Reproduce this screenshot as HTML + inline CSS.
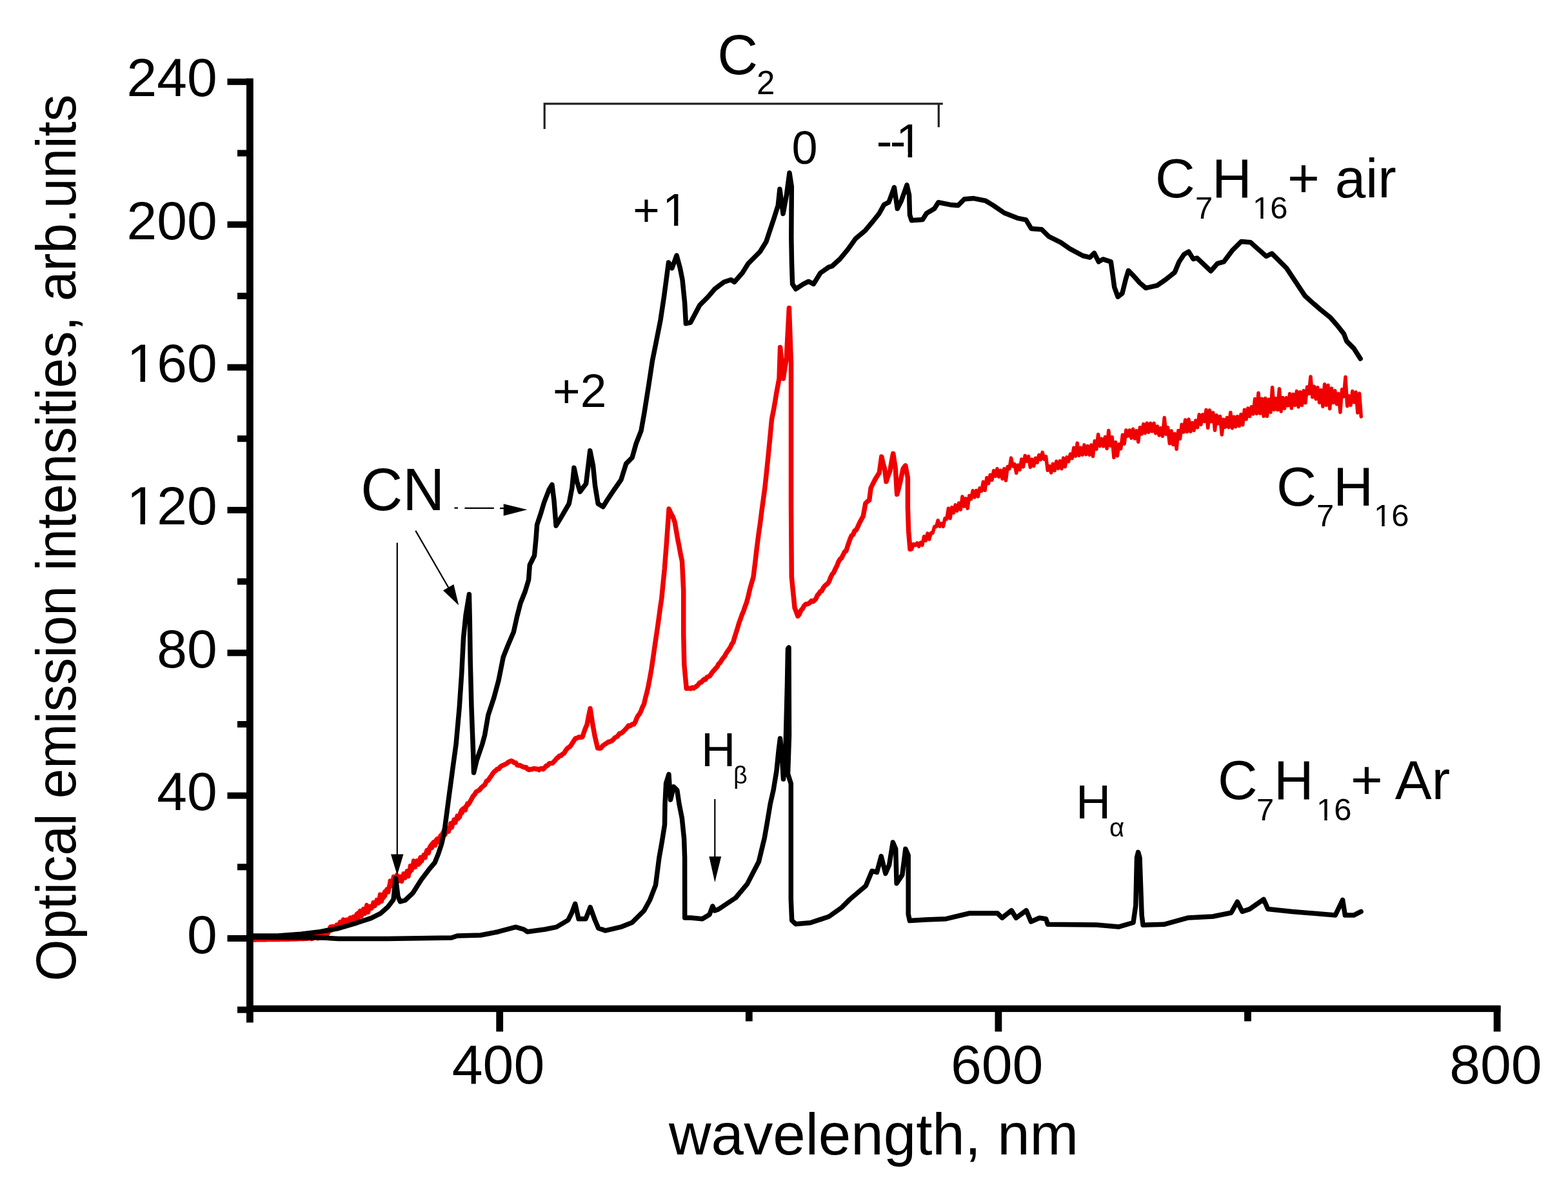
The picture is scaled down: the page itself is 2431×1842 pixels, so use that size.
<!DOCTYPE html>
<html><head><meta charset="utf-8"><title>Optical emission spectra</title>
<style>html,body{margin:0;padding:0;background:#fff;width:2431px;height:1842px;overflow:hidden}svg{display:block}
text{font-family:"Liberation Sans",Arial,sans-serif;fill:#000}</style></head><body>
<svg xmlns="http://www.w3.org/2000/svg" width="2431" height="1842" viewBox="0 0 2431 1842">
<rect width="2431" height="1842" fill="#fff"/>
<defs><clipPath id="k1"><rect x="136.4" y="687.4" width="297.4" height="118.22"/><rect x="136.45" y="805.62" width="64.51" height="49.8"/><rect x="217.57" y="805.62" width="7.42" height="49.8"/><rect x="240.95" y="805.62" width="192.93" height="49.8"/></clipPath><clipPath id="k2"><rect x="136.4" y="466.1" width="297.4" height="118.22"/><rect x="136.45" y="584.32" width="64.51" height="49.8"/><rect x="217.57" y="584.32" width="7.42" height="49.8"/><rect x="240.95" y="584.32" width="192.93" height="49.8"/></clipPath><clipPath id="k3"><rect x="1298.8" y="132.5" width="224.2" height="103.97"/><rect x="1298.80" y="236.47" width="94.17" height="44.0"/><rect x="1407.61" y="236.47" width="6.54" height="44.0"/><rect x="1428.20" y="236.47" width="94.80" height="44.0"/></clipPath><clipPath id="k4"><rect x="921.3" y="243.8" width="236.9" height="99.70"/><rect x="921.30" y="343.50" width="109.71" height="42.3"/><rect x="1045.05" y="343.50" width="6.27" height="42.3"/><rect x="1064.81" y="343.50" width="93.39" height="42.3"/></clipPath><clipPath id="k5"><rect x="1882.0" y="265.5" width="196.3" height="68.34"/><rect x="1882.00" y="333.84" width="62.63" height="29.7"/><rect x="1954.32" y="333.84" width="4.33" height="29.7"/><rect x="1967.96" y="333.84" width="110.29" height="29.7"/></clipPath><clipPath id="k6"><rect x="2070.0" y="742.8" width="196.3" height="68.34"/><rect x="2070.00" y="811.14" width="62.63" height="29.7"/><rect x="2142.32" y="811.14" width="4.33" height="29.7"/><rect x="2155.96" y="811.14" width="110.29" height="29.7"/></clipPath><clipPath id="k7"><rect x="1981.0" y="1198.7" width="196.3" height="68.34"/><rect x="1981.00" y="1267.04" width="62.63" height="29.7"/><rect x="2053.32" y="1267.04" width="4.33" height="29.7"/><rect x="2066.96" y="1267.04" width="110.29" height="29.7"/></clipPath></defs>
<polyline points="387.2,1457.0 389.4,1457.0 391.7,1456.9 393.9,1456.9 396.2,1456.9 398.4,1456.8 400.7,1456.8 402.9,1456.8 405.2,1456.8 407.4,1456.7 409.6,1456.7 411.9,1456.7 414.1,1456.6 416.4,1456.6 418.6,1456.6 420.9,1456.5 423.1,1456.5 425.4,1456.5 427.6,1456.4 429.9,1456.4 432.1,1456.4 434.3,1456.3 436.6,1456.3 438.8,1456.3 441.1,1456.3 443.3,1456.2 445.6,1456.2 447.8,1456.2 450.1,1456.1 452.3,1456.1 454.6,1456.0 456.9,1455.9 459.2,1455.8 461.5,1455.7 463.8,1455.6 466.1,1455.5 468.5,1455.5 470.8,1455.4 473.1,1455.3 475.4,1455.2 477.7,1455.1 480.0,1453.7 482.3,1452.0 484.6,1455.1 486.9,1450.4 489.2,1453.3 491.5,1451.5 493.8,1448.8 496.1,1451.6 498.4,1447.7 500.7,1450.0 503.0,1446.9 505.4,1444.1 507.8,1443.5 510.2,1443.4 512.4,1437.3 514.6,1437.0 516.9,1438.9 519.1,1440.2 521.3,1436.6 523.5,1434.3 525.8,1437.4 528.0,1429.7 530.2,1434.6 532.4,1429.5 534.7,1427.4 536.9,1426.2 539.1,1426.6 541.3,1429.0 543.5,1423.2 545.8,1424.9 548.0,1424.1 550.2,1420.9 552.4,1421.0 554.7,1416.2 556.9,1415.0 559.1,1414.8 561.3,1417.0 563.6,1413.9 565.8,1411.9 568.0,1412.6 570.4,1409.7 572.8,1406.7 575.3,1408.4 577.7,1405.7 580.1,1400.5 582.5,1401.0 585.0,1398.7 587.4,1399.3 589.8,1396.4 592.2,1390.0 594.6,1391.7 597.0,1382.3 599.4,1381.2 601.9,1380.4 604.3,1372.9 606.7,1372.1 609.1,1365.6 611.5,1366.9 613.9,1366.7 616.3,1364.3 618.8,1365.6 621.2,1360.6 623.6,1362.4 626.0,1360.7 628.4,1357.7 630.8,1353.9 633.2,1353.7 635.6,1351.6 638.0,1345.3 640.4,1343.8 642.8,1337.5 645.2,1340.2 647.6,1337.9 650.1,1338.4 652.5,1335.3 654.9,1329.4 657.3,1327.0 659.7,1325.9 662.1,1318.2 664.5,1318.2 666.9,1312.9 669.3,1309.4 671.7,1306.6 674.1,1309.3 676.5,1302.3 679.0,1300.7 681.4,1299.3 683.8,1300.4 686.2,1291.9 688.7,1291.7 691.1,1289.7 693.6,1289.3 696.3,1285.7 699.0,1283.0 701.7,1275.8 704.4,1273.7 707.1,1269.6 709.8,1269.6 712.6,1266.4 715.3,1256.9 718.0,1254.0 720.7,1252.5 723.4,1249.4 726.1,1247.1 728.5,1243.6 731.0,1238.9 733.4,1234.4 735.9,1231.8 738.3,1227.8 740.6,1226.4 742.8,1225.4 745.1,1222.6 747.4,1220.1 749.6,1218.4 751.9,1216.5 754.3,1211.2 756.8,1210.0 759.2,1206.2 761.7,1202.9 764.1,1199.1 766.4,1196.4 768.6,1194.9 770.9,1192.4 773.2,1192.3 775.4,1189.2 777.7,1187.6 780.2,1186.6 782.7,1185.2 785.2,1184.3 787.6,1182.1 790.1,1180.7 792.6,1179.7 794.9,1180.7 797.3,1182.6 799.6,1182.8 801.9,1186.4 804.2,1186.8 806.6,1186.7 808.9,1188.1 811.1,1189.1 813.4,1189.8 815.6,1189.8 817.9,1192.5 820.1,1193.6 822.4,1192.8 824.6,1192.9 826.8,1191.7 829.0,1191.8 831.2,1192.5 833.4,1192.2 835.6,1193.8 837.8,1192.0 840.0,1191.6 842.3,1192.6 844.7,1189.9 847.0,1187.2 849.3,1186.8 851.6,1183.8 854.0,1183.6 856.3,1183.3 858.5,1181.2 860.8,1178.9 863.0,1175.9 865.3,1174.3 867.5,1171.9 869.8,1171.8 872.0,1169.3 874.3,1168.2 877.0,1163.7 879.7,1160.2 882.4,1158.6 885.1,1155.9 887.5,1152.0 889.8,1148.4 892.2,1144.9 894.9,1144.4 897.6,1142.7 900.3,1143.3 903.0,1142.6 905.4,1135.3 907.7,1129.0 910.1,1123.4 912.6,1110.3 915.1,1098.5 918.7,1122.3 922.3,1141.9 926.6,1160.0 929.1,1160.2 931.6,1160.1 934.0,1156.9 936.4,1154.9 938.8,1153.4 941.1,1151.8 943.5,1150.2 945.9,1149.8 948.3,1148.8 950.7,1146.9 953.0,1144.0 955.4,1142.7 957.8,1141.3 960.2,1137.5 962.6,1137.0 965.0,1135.6 967.4,1133.1 969.7,1130.9 972.1,1128.1 974.5,1125.1 977.2,1125.5 980.0,1123.0 982.7,1123.0 985.0,1119.3 987.2,1113.5 989.5,1109.3 991.7,1106.6 994.0,1101.8 996.2,1096.0 998.5,1091.7 1000.8,1081.5 1003.0,1073.5 1005.3,1063.0 1007.6,1051.0 1009.9,1037.8 1012.1,1023.1 1014.4,1007.0 1016.7,991.1 1018.9,976.5 1021.2,960.3 1023.5,942.9 1025.7,928.6 1028.0,905.1 1030.3,882.1 1033.7,837.9 1037.1,788.9 1040.0,795.6 1043.0,800.9 1046.1,809.2 1048.4,822.7 1050.7,836.1 1053.0,847.3 1055.2,859.6 1057.5,870.0 1059.7,915.8 1059.7,983.0 1060.8,1030.4 1064.2,1067.4 1066.5,1067.3 1068.7,1067.3 1071.0,1067.8 1073.3,1066.0 1075.5,1067.1 1077.8,1065.5 1080.1,1063.8 1082.3,1061.9 1084.6,1058.7 1086.9,1058.1 1089.2,1055.6 1091.4,1053.3 1093.7,1053.7 1096.0,1050.1 1098.2,1049.1 1100.5,1048.0 1102.8,1044.7 1105.0,1041.3 1107.3,1039.0 1109.5,1036.3 1111.8,1034.1 1114.1,1029.3 1116.3,1027.8 1118.6,1024.1 1120.9,1020.5 1123.1,1018.2 1125.4,1013.8 1127.7,1010.2 1130.0,1007.1 1132.2,1003.8 1134.5,998.8 1136.8,995.6 1139.0,987.9 1141.3,980.6 1143.5,973.7 1145.8,965.7 1148.1,959.6 1150.4,953.1 1152.6,948.0 1154.9,941.0 1157.2,935.2 1159.9,925.3 1162.6,913.4 1165.2,904.2 1167.9,895.2 1170.6,873.6 1173.3,850.3 1176.0,828.9 1178.5,811.8 1180.9,792.8 1183.3,775.3 1185.8,756.8 1188.5,731.7 1191.2,705.3 1193.8,678.9 1196.5,650.0 1198.9,638.3 1201.3,624.8 1203.7,610.0 1208.0,587.1 1209.6,538.6 1212.0,560.7 1214.4,586.9 1216.8,570.8 1219.2,556.6 1223.4,477.5 1226.5,563.9 1226.5,781.1 1227.3,894.4 1229.7,918.8 1232.1,942.5 1234.5,948.5 1236.9,955.3 1239.3,952.4 1241.8,946.4 1244.2,943.9 1246.6,939.5 1248.9,937.0 1251.2,936.5 1253.5,935.9 1255.8,934.2 1258.1,931.6 1260.4,932.7 1262.7,930.8 1265.0,928.4 1267.2,923.1 1269.5,920.7 1271.7,917.2 1274.0,916.3 1276.2,912.0 1278.5,908.7 1280.7,906.7 1283.0,905.1 1285.2,902.0 1287.7,895.6 1290.1,890.5 1292.6,887.8 1295.1,882.0 1297.5,877.5 1300.0,871.0 1302.4,867.0 1304.8,865.0 1307.1,860.4 1309.5,855.6 1311.9,854.2 1314.9,844.4 1317.9,835.9 1320.3,830.4 1322.7,828.9 1325.0,823.1 1327.4,821.8 1329.8,817.1 1332.6,810.8 1335.4,805.4 1338.2,800.5 1341.8,780.8 1344.8,777.4 1347.7,775.6 1350.1,756.9 1353.1,750.5 1356.1,744.7 1358.5,740.4 1360.8,736.8 1363.2,733.2 1366.8,708.1 1369.2,718.9 1371.6,727.1 1374.0,746.8 1377.0,737.5 1380.0,729.7 1382.3,715.7 1384.7,703.2 1388.3,726.3 1390.7,766.6 1393.1,757.7 1395.5,748.3 1397.8,737.2 1400.2,726.5 1403.8,721.9 1407.4,740.6 1407.4,787.2 1408.6,823.2 1411.0,851.5 1411.0,850.3" fill="none" stroke="#f00000" stroke-width="7.5" stroke-linejoin="round" stroke-linecap="round"/>
<polyline points="1411.0,848.2 1413.7,851.6 1416.4,843.4 1419.1,845.6 1421.8,841.8 1424.5,847.4 1427.2,841.1 1429.9,845.3 1432.6,831.8 1435.3,838.2 1438.0,827.0 1440.7,836.2 1443.4,826.2 1446.1,826.4 1448.8,816.5 1451.5,816.7 1454.2,806.8 1456.9,816.3 1459.6,811.6 1462.3,816.4 1465.0,803.9 1467.7,804.8 1470.4,788.3 1473.1,803.7 1475.8,786.6 1478.5,795.1 1481.2,782.9 1483.9,792.2 1486.6,780.0 1489.3,790.1 1492.0,769.9 1494.7,785.1 1497.4,772.9 1500.1,788.4 1502.8,768.5 1505.5,773.9 1508.2,760.7 1510.9,771.0 1513.6,760.5 1516.3,769.9 1519.0,756.9 1521.7,761.4 1524.4,747.1 1527.1,760.3 1529.8,740.8 1532.5,749.6 1535.2,736.2 1537.9,744.5 1540.6,729.8 1543.3,738.5 1546.0,726.8 1548.7,739.3 1551.4,729.4 1554.1,742.4 1556.8,726.8 1559.5,745.0 1562.2,723.4 1564.9,726.9 1567.6,710.1 1570.3,722.9 1573.0,719.7 1575.7,733.5 1578.4,721.1 1581.1,728.4 1583.8,712.0 1586.5,723.9 1589.2,706.4 1591.9,715.1 1594.6,707.7 1597.3,724.5 1600.0,712.1 1602.7,722.7 1605.4,710.3 1608.1,717.3 1610.8,705.5 1613.5,712.6 1616.2,701.3 1618.9,712.2 1621.6,707.8 1624.3,729.3 1627.0,722.6 1629.7,733.0 1632.4,719.2 1635.1,729.7 1637.8,715.3 1640.5,726.4 1643.2,714.8 1645.9,726.7 1648.6,710.1 1651.3,723.8 1654.0,708.9 1656.7,715.6 1659.4,704.0 1662.1,710.7 1664.8,694.2 1667.5,707.2 1670.2,687.1 1672.9,706.4 1675.6,694.3 1678.3,705.3 1681.0,689.9 1683.7,704.6 1686.4,691.5 1689.1,705.2 1691.8,690.0 1694.5,707.5 1697.2,683.7 1699.9,696.5 1702.6,673.6 1705.3,691.7 1708.0,680.4 1710.7,691.9 1713.4,677.5 1716.1,695.6 1718.8,667.5 1721.5,691.2 1724.2,677.7 1726.9,709.4 1729.6,685.4 1732.3,706.9 1735.0,688.8 1737.7,695.8 1740.4,674.3 1743.1,688.2 1745.8,666.9 1748.5,676.2 1751.2,667.0 1753.9,679.2 1756.6,665.3 1759.3,680.0 1762.0,667.9 1764.7,685.2 1767.4,662.7 1770.1,673.0 1772.8,657.5 1775.5,671.6 1778.2,656.1 1780.9,670.2 1783.6,656.3 1786.3,668.8 1789.0,656.3 1791.7,671.8 1794.4,661.0 1797.1,675.0 1799.8,663.7 1802.5,676.3 1805.2,647.5 1807.9,673.3 1810.6,662.8 1813.3,687.8 1816.0,667.9 1818.7,689.6 1821.4,672.5 1824.1,696.4 1826.8,667.5 1829.5,680.4 1832.2,658.2 1834.9,670.0 1837.6,651.0 1840.3,669.6 1843.0,650.1 1845.7,669.3 1848.4,655.5 1851.1,667.4 1853.8,652.0 1856.5,662.9 1859.2,642.8 1861.9,658.2 1864.6,642.7 1867.3,653.5 1870.0,635.5 1872.7,663.6 1875.4,636.1 1878.1,653.8 1880.8,639.9 1883.5,667.3 1886.2,643.7 1888.9,656.9 1891.6,645.5 1894.3,674.1 1897.0,650.3 1899.7,662.3 1902.4,647.5 1905.1,662.7 1907.8,639.4 1910.5,663.9 1913.2,646.3 1915.9,661.8 1918.6,645.6 1921.3,660.5 1924.0,642.5 1926.7,658.7 1929.4,635.2 1932.1,650.0 1934.8,632.9 1937.5,645.8 1940.2,630.8 1942.9,642.0 1945.6,618.5 1948.3,641.4 1951.0,609.2 1953.7,641.1 1956.4,618.3 1959.1,645.4 1961.8,617.6 1964.5,645.4 1967.2,619.3 1969.9,639.2 1972.6,600.5 1975.3,635.2 1978.0,617.8 1980.7,635.5 1983.4,602.7 1986.1,637.9 1988.8,616.4 1991.5,633.4 1994.2,616.8 1996.9,628.9 1999.6,610.5 2002.3,633.1 2005.0,611.3 2007.7,628.4 2010.4,606.5 2013.1,631.0 2015.8,607.7 2018.5,628.5 2021.2,605.8 2023.9,624.7 2026.6,600.0 2029.3,610.5 2032.0,583.9 2034.7,615.8 2037.4,599.2 2040.1,618.7 2042.8,600.8 2045.5,624.3 2048.2,604.8 2050.9,630.4 2053.6,595.8 2056.3,628.2 2059.0,597.2 2061.7,633.8 2064.4,602.0 2067.1,624.5 2069.8,605.8 2072.5,626.8 2075.2,610.4 2077.9,639.2 2080.6,603.8 2083.3,614.9 2086.0,584.5 2088.7,629.7 2091.4,613.9 2094.1,628.2 2096.8,606.6 2099.5,623.7 2102.2,608.0 2104.9,640.1 2107.6,610.0 2110.3,646.0" fill="none" stroke="#f00000" stroke-width="5.5" stroke-linejoin="round" stroke-linecap="round"/>
<polyline points="480.0,1453.8 482.6,1455.9 485.2,1452.4 487.8,1454.1 490.4,1450.8 493.0,1455.2 495.6,1450.3 498.2,1454.2 500.8,1449.0 503.4,1451.9 506.0,1442.1 508.6,1447.7 511.2,1438.9 513.8,1442.7 516.4,1436.2 519.0,1439.6 521.6,1433.9 524.2,1437.9 526.8,1429.8 529.4,1434.9 532.0,1425.5 534.6,1436.5 537.2,1426.1 539.8,1431.8 542.4,1423.3 545.0,1432.7 547.6,1421.2 550.2,1429.8 552.8,1417.1 555.4,1426.0 558.0,1412.0 560.6,1421.0 563.2,1409.1 565.8,1416.8 568.4,1403.0 571.0,1414.7 573.6,1405.1 576.2,1408.1 578.8,1399.0 581.4,1404.9 584.0,1395.1 586.6,1400.7 589.2,1386.6 591.8,1397.8 594.4,1386.1 597.0,1389.3 599.6,1378.5 602.2,1383.3 604.8,1365.6 607.4,1373.6 610.0,1359.0 612.6,1370.9 615.2,1356.3 617.8,1366.1 620.4,1358.9 623.0,1367.0 625.6,1354.4 628.2,1361.4 630.8,1350.2 633.4,1358.9 636.0,1342.2 638.6,1349.3 641.2,1334.4 643.8,1344.9 646.4,1334.2 649.0,1340.7 651.6,1329.0 654.2,1335.1 656.8,1325.2 659.4,1330.1 662.0,1318.4 664.6,1322.9 667.2,1312.6 669.8,1314.9 672.4,1305.2 675.0,1311.1 677.6,1300.4 680.2,1306.2 682.8,1295.2 685.4,1301.2 688.0,1287.2 690.6,1294.1 693.2,1284.1 695.8,1289.6 698.4,1276.4 701.0,1282.9 703.6,1270.6 706.2,1275.9 708.8,1264.6 711.4,1268.2 714.0,1259.5 716.6,1260.4 719.2,1253.1 721.8,1256.3 724.4,1245.5" fill="none" stroke="#f00000" stroke-width="6.5" stroke-linejoin="round" stroke-linecap="round"/>
<polyline points="387.5,1453.0 500.0,1454.0 524.7,1455.4 600.0,1455.5 700.0,1454.0 709.0,1451.0 745.2,1450.0 772.3,1444.7 799.5,1437.4 812.1,1441.0 817.5,1444.7 844.7,1441.0 862.7,1437.4 880.8,1426.6 886.3,1415.7 891.7,1401.3 897.1,1424.8 908.0,1424.8 915.2,1406.7 922.4,1426.6 927.8,1439.2 938.7,1442.9 962.2,1437.4 980.3,1430.2 998.4,1412.1 1007.4,1395.8 1016.5,1372.3 1021.9,1330.0 1026.2,1305.8 1030.5,1278.9 1031.0,1247.0 1032.6,1214.5 1036.9,1200.5 1039.5,1240.0 1044.5,1219.8 1049.8,1225.2 1053.0,1246.7 1057.3,1268.2 1060.6,1300.4 1061.6,1330.0 1061.7,1423.0 1070.7,1423.0 1088.8,1424.8 1100.0,1418.0 1104.8,1405.0 1108.0,1412.0 1113.7,1410.0 1140.6,1392.0 1158.5,1370.6 1176.4,1336.0 1185.3,1299.0 1189.5,1275.0 1194.3,1246.0 1199.1,1225.0 1204.0,1195.0 1207.0,1165.0 1209.5,1145.0 1212.0,1168.0 1214.5,1208.0 1217.5,1180.0 1219.5,1100.0 1220.5,1060.0 1221.5,1006.0 1223.0,1004.0 1223.5,1140.0 1221.5,1200.0 1226.3,1215.0 1226.3,1394.5 1227.7,1427.0 1233.5,1432.7 1256.4,1430.7 1285.0,1421.2 1304.1,1407.8 1317.5,1394.5 1342.3,1373.5 1351.9,1350.5 1359.5,1352.4 1366.2,1327.6 1372.9,1354.4 1378.6,1341.0 1384.3,1306.0 1388.7,1316.2 1390.1,1369.7 1398.8,1356.7 1403.9,1316.2 1408.2,1326.3 1408.2,1417.4 1410.4,1427.6 1435.0,1426.1 1466.8,1424.7 1503.0,1416.0 1524.7,1416.0 1546.4,1416.0 1553.6,1423.2 1568.1,1411.6 1575.3,1423.2 1591.2,1411.6 1598.4,1429.0 1611.5,1423.2 1621.6,1424.7 1624.5,1433.3 1700.0,1434.0 1734.2,1437.1 1757.0,1430.5 1760.8,1404.0 1762.5,1330.0 1764.6,1321.3 1767.0,1330.0 1770.2,1419.1 1772.1,1434.3 1804.4,1433.3 1842.4,1422.9 1880.4,1421.0 1908.8,1415.3 1918.3,1398.2 1925.9,1413.4 1937.3,1409.6 1959.2,1394.4 1965.8,1409.6 2003.8,1413.4 2070.2,1419.1 2081.6,1395.4 2085.4,1419.1 2098.7,1419.1 2110.1,1413.4" fill="none" stroke="#000" stroke-width="7.5" stroke-linejoin="round" stroke-linecap="round"/>
<polyline points="387.5,1451.0 430.0,1451.0 466.8,1448.2 495.7,1444.6 524.7,1439.5 553.6,1430.8 575.3,1423.6 589.8,1416.4 601.3,1406.2 610.0,1394.7 613.5,1362.0 617.0,1390.0 620.5,1398.0 628.0,1396.0 640.0,1384.7 653.1,1364.0 666.2,1346.7 674.1,1337.5 679.4,1324.4 684.6,1308.6 688.6,1291.5 691.2,1272.0 693.8,1252.2 696.4,1232.5 699.1,1212.8 701.7,1193.1 707.1,1153.6 712.2,1096.9 715.8,1043.2 718.5,989.5 722.1,953.7 727.4,921.5 728.3,962.7 729.2,1025.3 731.0,1097.0 733.7,1168.5 734.5,1198.0 739.0,1179.3 747.8,1153.6 751.5,1140.0 756.9,1108.7 765.8,1081.8 773.0,1055.0 780.2,1019.0 787.3,1001.0 796.3,980.0 801.6,956.0 807.0,935.0 814.2,917.0 819.6,899.0 821.3,876.0 828.5,861.5 831.0,835.3 832.6,813.6 838.8,795.0 843.4,779.5 851.2,759.3 855.9,751.5 859.0,776.4 862.1,815.2 871.4,799.6 882.2,781.0 886.9,756.2 890.0,725.2 894.6,746.9 899.3,762.4 908.6,750.0 914.8,698.8 919.5,722.1 922.6,753.1 927.2,781.0 935.0,785.7 942.7,773.3 952.1,759.3 962.9,743.8 970.7,719.0 980.0,709.7 986.2,687.9 994.0,667.8 999.0,639.6 1006.1,594.8 1011.5,559.0 1016.9,532.2 1024.0,496.4 1029.4,460.6 1033.0,433.7 1036.5,406.9 1041.9,415.8 1049.1,396.1 1054.4,415.8 1058.0,433.7 1061.6,469.5 1063.4,501.7 1070.6,500.0 1084.9,473.1 1097.4,460.6 1108.2,448.0 1122.5,437.3 1133.2,433.7 1138.6,437.3 1151.1,423.0 1160.1,408.6 1178.0,390.7 1187.9,374.7 1193.1,359.0 1199.7,339.3 1206.3,318.3 1208.9,293.3 1214.1,331.4 1219.4,302.5 1224.0,268.0 1227.3,289.4 1226.8,368.0 1227.5,407.5 1228.6,440.4 1233.8,448.2 1245.6,440.4 1253.5,436.4 1261.4,440.4 1271.9,423.3 1285.0,414.1 1290.0,412.6 1302.2,401.6 1314.4,386.9 1326.6,369.9 1341.3,357.6 1353.5,343.0 1363.2,330.8 1370.6,317.4 1377.9,313.7 1386.4,290.5 1391.3,323.5 1397.4,311.3 1406.0,286.9 1409.6,302.7 1410.5,333.2 1413.3,341.8 1430.4,340.6 1436.5,330.8 1448.7,323.5 1454.8,313.7 1473.1,317.4 1485.3,318.6 1495.0,308.8 1509.7,307.6 1528.0,311.3 1540.2,318.6 1556.8,330.0 1577.1,338.1 1590.7,340.9 1598.8,354.4 1615.1,355.8 1626.0,366.6 1645.0,376.1 1658.5,385.6 1678.8,396.5 1689.7,399.2 1696.5,392.4 1703.3,405.9 1710.0,401.9 1722.3,405.9 1725.0,424.9 1727.7,445.3 1733.1,460.2 1739.9,454.8 1745.3,433.1 1749.4,419.5 1756.2,426.3 1767.0,438.5 1776.5,446.6 1794.1,442.6 1807.7,433.1 1821.3,422.2 1828.0,406.0 1835.7,394.4 1842.9,390.1 1850.0,401.6 1855.8,400.1 1877.3,420.2 1887.3,408.7 1897.3,405.9 1910.2,388.7 1924.5,374.4 1938.8,375.8 1951.7,387.3 1963.2,397.3 1971.8,393.0 1987.5,408.7 1994.7,415.9 2009.0,437.4 2023.3,458.9 2037.6,471.7 2047.7,480.3 2062.0,491.8 2073.4,504.7 2083.5,517.6 2087.8,529.0 2099.2,540.5 2109.2,556.2" fill="none" stroke="#000" stroke-width="7.5" stroke-linejoin="round" stroke-linecap="round"/>
<rect x="382" y="121.5" width="10.8" height="1464" fill="#000"/>
<rect x="382" y="1558.8" width="1944.5" height="10.3" fill="#000"/>
<rect x="352.5" y="1450.0" width="32" height="10" fill="#000"/>
<rect x="352.5" y="1228.6" width="32" height="10" fill="#000"/>
<rect x="352.5" y="1007.3" width="32" height="10" fill="#000"/>
<rect x="352.5" y="785.9" width="32" height="10" fill="#000"/>
<rect x="352.5" y="564.6" width="32" height="10" fill="#000"/>
<rect x="352.5" y="343.2" width="32" height="10" fill="#000"/>
<rect x="352.5" y="121.8" width="32" height="10" fill="#000"/>
<rect x="368" y="1560.7" width="16" height="10" fill="#000"/>
<rect x="368" y="1339.3" width="16" height="10" fill="#000"/>
<rect x="368" y="1118.0" width="16" height="10" fill="#000"/>
<rect x="368" y="896.6" width="16" height="10" fill="#000"/>
<rect x="368" y="675.2" width="16" height="10" fill="#000"/>
<rect x="368" y="453.9" width="16" height="10" fill="#000"/>
<rect x="368" y="232.5" width="16" height="10" fill="#000"/>
<rect x="769.3" y="1560" width="10.8" height="39.5" fill="#000"/>
<rect x="1542.5" y="1560" width="10.8" height="39.5" fill="#000"/>
<rect x="2315.7" y="1560" width="10.8" height="39.5" fill="#000"/>
<rect x="1155.9" y="1560" width="10.8" height="23.5" fill="#000"/>
<rect x="1929.1" y="1560" width="10.8" height="23.5" fill="#000"/>
<text x="289.88" y="1477.5" font-size="84">0</text>
<text x="243.17 289.88" y="1256.1" font-size="84">40</text>
<text x="243.17 289.88" y="1034.8" font-size="84">80</text>
<text x="196.45 243.17 289.88" y="813.4" font-size="84" clip-path="url(#k1)">120</text>
<text x="196.45 243.17 289.88" y="592.1" font-size="84" clip-path="url(#k2)">160</text>
<text x="196.45 243.17 289.88" y="370.7" font-size="84">200</text>
<text x="196.45 243.17 289.88" y="149.3" font-size="84">240</text>
<text x="700.76 748.59 796.41" y="1680.1" font-size="86">400</text>
<text x="1473.96 1521.79 1569.61" y="1680.1" font-size="86">600</text>
<text x="2247.16 2294.99 2342.81" y="1680.1" font-size="86">800</text>
<text x="1037" y="1790.2" font-size="90.7">wavelength, nm</text>
<text transform="translate(117.3,1521.5) rotate(-90) scale(0.95,1)" font-size="88">Optical emission intensities, arb.units</text>
<text x="1112.2" y="115.2" font-size="87">C</text>
<text x="1172.9" y="146" font-size="51">2</text>
<text x="1227.6" y="253.7" font-size="72">0</text>
<text x="1358.80 1379.70 1389.00" y="243.5" font-size="74" clip-path="url(#k3)">--1</text>
<text x="981.30 1027.20" y="350.3" font-size="71" clip-path="url(#k4)">+1</text>
<text x="857" y="631.1" font-size="73">+2</text>
<text x="1791" y="306" font-size="85.5">C</text><text x="1853" y="339" font-size="49">7</text><text x="1879" y="306" font-size="85.5">H</text><text x="1942.00 1969.25" y="339" font-size="49" clip-path="url(#k5)">16</text><text x="1996" y="306" font-size="85.5">+ air</text>
<text x="1979" y="783.5" font-size="86">C</text><text x="2041" y="816.3" font-size="49">7</text><text x="2067" y="783.5" font-size="86">H</text><text x="2130.00 2157.25" y="816.3" font-size="49" clip-path="url(#k6)">16</text>
<text x="1888" y="1239" font-size="85.3">C</text><text x="1948" y="1272.2" font-size="49">7</text><text x="1975" y="1239" font-size="85.3">H</text><text x="2041.00 2068.25" y="1272.2" font-size="49" clip-path="url(#k7)">16</text><text x="2094" y="1239" font-size="85.3">+ Ar</text>
<text transform="translate(559.2,791.2) scale(0.972,1)" font-size="92.6">CN</text>
<text x="1087" y="1188" font-size="74">H</text><text x="1137" y="1215" font-size="38" font-family="Liberation Serif">β</text>
<text x="1668" y="1269.4" font-size="75">H</text><text x="1720" y="1297" font-size="40" font-family="Liberation Serif">α</text>
<path d="M844.2,200 V160.9 H1461.8 M1455.3,160.9 V197.2" fill="none" stroke="#222" stroke-width="3.2"/>
<path d="M704.5,787.6 H710 M720.4,787.8 H765.8 M775,788.2 H782" fill="none" stroke="#000" stroke-width="2.2"/>
<polygon points="780.7,781.2 817.4,790.3 780.7,799.8" fill="#000"/>
<line x1="615.8" y1="841.5" x2="615.8" y2="1330" stroke="#000" stroke-width="2.2"/>
<polygon points="606,1324.5 625.5,1324.5 615.8,1357" fill="#000"/>
<line x1="644.3" y1="822.9" x2="697.2" y2="914.3" stroke="#000" stroke-width="2.2"/>
<polygon points="703.4,906.0 711.2,938.5 686.9,915.6" fill="#000"/>
<line x1="1108.3" y1="1239" x2="1108.3" y2="1335" stroke="#000" stroke-width="2.2"/>
<polygon points="1099.4,1328 1118.2,1328 1108.3,1368" fill="#000"/>
</svg>
</body></html>
